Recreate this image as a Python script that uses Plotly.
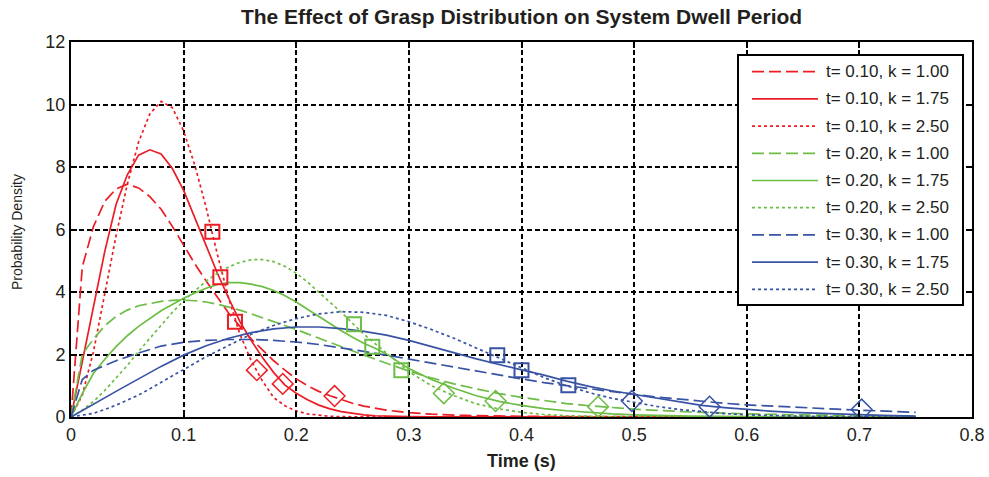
import plotly.graph_objects as go

# ---------------- data ----------------
# t = 0.10
t10_x = [0, 0.01, 0.02, 0.03, 0.04, 0.05, 0.06, 0.07, 0.08, 0.09, 0.10, 0.11, 0.12, 0.13, 0.14,
         0.15, 0.16, 0.17, 0.18, 0.19, 0.20, 0.21, 0.22, 0.23, 0.24, 0.25, 0.26, 0.27, 0.28, 0.29,
         0.30, 0.32, 0.35, 0.40, 0.45, 0.50, 0.60, 0.75]
t10_k100 = [0, 4.8, 6.1, 6.9, 7.3, 7.45, 7.33, 7.05, 6.65, 6.1, 5.5, 4.9, 4.35, 3.82, 3.32,
            2.9, 2.5, 2.15, 1.8, 1.5, 1.22, 1.0, 0.82, 0.68, 0.55, 0.44, 0.35, 0.28, 0.22, 0.18,
            0.14, 0.09, 0.05, 0.02, 0.01, 0.005, 0, 0]
t10_k175 = [0, 1.8, 3.5, 5.3, 6.8, 7.75, 8.38, 8.55, 8.42, 7.95, 7.25, 6.35, 5.45, 4.6, 3.8,
            3.05, 2.45, 1.9, 1.42, 1.02, 0.76, 0.55, 0.38, 0.26, 0.17, 0.11, 0.07, 0.04, 0.025, 0.015,
            0.01, 0.005, 0, 0, 0, 0, 0, 0]
t10_k250 = [0, 0.7, 2.1, 3.95, 5.8, 7.45, 8.8, 9.7, 10.1, 9.9, 9.15, 8.05, 6.7, 5.2, 3.8,
            2.65, 1.8, 1.15, 0.62, 0.36, 0.19, 0.1, 0.05, 0.02, 0.01, 0.005, 0, 0, 0, 0,
            0, 0, 0, 0, 0, 0, 0, 0]

# t = 0.20
t20_x = [0, 0.01, 0.02, 0.03, 0.04, 0.05, 0.06, 0.07, 0.08, 0.09, 0.10, 0.11, 0.12, 0.13, 0.14,
         0.15, 0.16, 0.17, 0.18, 0.19, 0.20, 0.21, 0.22, 0.23, 0.24, 0.25, 0.26, 0.27, 0.28, 0.29,
         0.30, 0.32, 0.34, 0.36, 0.38, 0.40, 0.42, 0.44, 0.46, 0.48, 0.50, 0.55, 0.60, 0.65,
         0.70, 0.75]
t20_k100 = [0, 2.0, 2.5, 2.92, 3.22, 3.42, 3.56, 3.64, 3.7, 3.73, 3.74, 3.72, 3.68, 3.61, 3.52,
            3.42, 3.3, 3.18, 3.06, 2.93, 2.8, 2.66, 2.52, 2.38, 2.25, 2.11, 1.98, 1.85, 1.72, 1.59,
            1.47, 1.25, 1.06, 0.9, 0.75, 0.63, 0.52, 0.43, 0.36, 0.3, 0.25, 0.16, 0.1, 0.065,
            0.04, 0.03]
t20_k175 = [0, 0.75, 1.4, 1.85, 2.25, 2.6, 2.9, 3.15, 3.4, 3.6, 3.8, 3.97, 4.12, 4.24, 4.3,
            4.3, 4.25, 4.17, 4.05, 3.88, 3.68, 3.45, 3.22, 2.98, 2.76, 2.55, 2.36, 2.2, 2.02, 1.78,
            1.55, 1.2, 0.92, 0.68, 0.5, 0.37, 0.27, 0.2, 0.14, 0.1, 0.07, 0.03, 0.015, 0.005,
            0, 0]
t20_k250 = [0, 0.22, 0.5, 0.85, 1.25, 1.65, 2.1, 2.52, 2.95, 3.35, 3.72, 4.05, 4.35, 4.6, 4.8,
            4.95, 5.03, 5.04, 4.97, 4.82, 4.6, 4.32, 4.0, 3.68, 3.35, 3.0, 2.65, 2.35, 2.05, 1.75,
            1.45, 1.0, 0.68, 0.42, 0.26, 0.15, 0.08, 0.04, 0.02, 0.01, 0.005, 0, 0, 0,
            0, 0]

# t = 0.30
t30_x = [0, 0.01, 0.02, 0.03, 0.04, 0.06, 0.08, 0.10, 0.12, 0.14, 0.16, 0.18, 0.20, 0.22, 0.24,
         0.26, 0.28, 0.30, 0.32, 0.34, 0.36, 0.38, 0.40, 0.42, 0.44, 0.46, 0.48, 0.50, 0.52, 0.54,
         0.56, 0.58, 0.60, 0.62, 0.64, 0.66, 0.68, 0.70, 0.72, 0.75]
t30_k100 = [0, 1.2, 1.5, 1.66, 1.8, 2.05, 2.27, 2.39, 2.45, 2.48, 2.48, 2.45, 2.4, 2.32, 2.22,
            2.1, 1.98, 1.85, 1.72, 1.59, 1.46, 1.34, 1.22, 1.1, 1.0, 0.9, 0.8, 0.72, 0.64, 0.57,
            0.5, 0.44, 0.39, 0.35, 0.31, 0.28, 0.25, 0.22, 0.19, 0.15]
t30_k175 = [0, 0.21, 0.42, 0.62, 0.82, 1.22, 1.62, 1.98, 2.28, 2.52, 2.7, 2.82, 2.88, 2.88, 2.83,
            2.74, 2.62, 2.45, 2.25, 2.05, 1.86, 1.68, 1.52, 1.34, 1.15, 0.98, 0.84, 0.72, 0.59, 0.47,
            0.37, 0.3, 0.24, 0.19, 0.15, 0.12, 0.09, 0.07, 0.05, 0.03]
t30_k250 = [0, 0.05, 0.12, 0.24, 0.38, 0.7, 1.1, 1.52, 1.93, 2.3, 2.65, 2.93, 3.15, 3.3, 3.37,
            3.35, 3.25, 3.05, 2.8, 2.52, 2.2, 1.88, 1.56, 1.26, 1.0, 0.78, 0.6, 0.46, 0.34, 0.24,
            0.17, 0.11, 0.07, 0.045, 0.03, 0.02, 0.01, 0.005, 0, 0]

# square and diamond markers on each curve (k = 1.00, 1.75, 2.50 order per t)
sq_red_x, sq_red_y = [0.1456, 0.1326, 0.1255], [3.05, 4.47, 5.93]
sq_green_x, sq_green_y = [0.2933, 0.2675, 0.2513], [1.50, 2.25, 2.97]
sq_blue_x, sq_blue_y = [0.4416, 0.400, 0.3785], [1.02, 1.50, 1.98]
dm_red_x, dm_red_y = [0.234, 0.188, 0.165], [0.67, 1.06, 1.50]
dm_green_x, dm_green_y = [0.468, 0.377, 0.331], [0.33, 0.51, 0.76]
dm_blue_x, dm_blue_y = [0.702, 0.567, 0.498], [0.24, 0.33, 0.51]

legend_labels = ["t= 0.10, k = 1.00", "t= 0.10, k = 1.75", "t= 0.10, k = 2.50",
                 "t= 0.20, k = 1.00", "t= 0.20, k = 1.75", "t= 0.20, k = 2.50",
                 "t= 0.30, k = 1.00", "t= 0.30, k = 1.75", "t= 0.30, k = 2.50"]

x_ticks = [0, 0.1, 0.2, 0.3, 0.4, 0.5, 0.6, 0.7, 0.8]
x_tick_text = ["0", "0.1", "0.2", "0.3", "0.4", "0.5", "0.6", "0.7", "0.8"]
y_ticks = [0, 2, 4, 6, 8, 10, 12]
y_tick_text = ["0", "2", "4", "6", "8", "10", "12"]

# ---------------- styling ----------------
RED = "#EC1C24"
GREEN = "#6CBD45"
BLUE = "#3953A4"
DASH = "12px,5px"
DOT = "3px,3px"
LW = 1.7
FONT = "Liberation Sans, Arial, sans-serif"
INK = "#231F20"

series = [
    (t10_x, t10_k100, RED, DASH), (t10_x, t10_k175, RED, "solid"), (t10_x, t10_k250, RED, DOT),
    (t20_x, t20_k100, GREEN, DASH), (t20_x, t20_k175, GREEN, "solid"), (t20_x, t20_k250, GREEN, DOT),
    (t30_x, t30_k100, BLUE, DASH), (t30_x, t30_k175, BLUE, "solid"), (t30_x, t30_k250, BLUE, DOT),
]

fig = go.Figure()
for (xs, ys, col, dash), name in zip(series, legend_labels):
    fig.add_trace(go.Scatter(x=xs, y=ys, mode="lines", name=name, showlegend=False,
                             line=dict(color=col, width=LW, dash=dash)))

for xs, ys, col in [(sq_red_x, sq_red_y, RED), (sq_green_x, sq_green_y, GREEN),
                    (sq_blue_x, sq_blue_y, BLUE)]:
    fig.add_trace(go.Scatter(x=xs, y=ys, mode="markers", showlegend=False,
                             marker=dict(symbol="square-open", size=14, color=col,
                                         line=dict(width=2, color=col))))
for xs, ys, col in [(dm_red_x, dm_red_y, RED), (dm_green_x, dm_green_y, GREEN),
                    (dm_blue_x, dm_blue_y, BLUE)]:
    fig.add_trace(go.Scatter(x=xs, y=ys, mode="markers", showlegend=False,
                             marker=dict(symbol="diamond-open", size=16, color=col,
                                         line=dict(width=1.5, color=col))))

# ---------------- layout helpers (pixel -> paper) ----------------
W, H = 989, 477
L, R, T, B = 71, 17, 42, 60
pw, ph = W - L - R, H - T - B


def px(xp):
    return (xp - L) / pw


def py(yp):
    return (H - B - yp) / ph


# legend box drawn in paper space
shapes = [dict(type="rect", xref="paper", yref="paper",
               x0=px(738), x1=px(963), y0=py(305), y1=py(55),
               line=dict(color="black", width=2), fillcolor="white", layer="above")]
annotations = []
row0, step = 71.7, 27.2
for i, ((_, _, col, dash), label) in enumerate(zip(series, legend_labels)):
    yy = row0 + i * step
    shapes.append(dict(type="line", xref="paper", yref="paper",
                       x0=px(752), x1=px(818), y0=py(yy), y1=py(yy),
                       line=dict(color=col, width=LW, dash=dash), layer="above"))
    annotations.append(dict(xref="paper", yref="paper", x=px(824), y=py(yy),
                            xanchor="left", yanchor="middle", text=label, showarrow=False,
                            font=dict(family=FONT, size=17, color=INK)))

# axis titles
annotations.append(dict(xref="paper", yref="paper", x=px(521), y=py(461),
                        xanchor="center", yanchor="middle", showarrow=False,
                        text="<b>Time (s)</b>", font=dict(family=FONT, size=18, color=INK)))
annotations.append(dict(xref="paper", yref="paper", x=px(17), y=py(232),
                        xanchor="center", yanchor="middle", showarrow=False, textangle=-90,
                        text="Probability Density", font=dict(family=FONT, size=14, color=INK)))

axis_common = dict(showline=True, linecolor="black", linewidth=2, mirror="ticks",
                   ticks="inside", ticklen=6, tickwidth=1.5, tickcolor="black",
                   showgrid=True, gridcolor="black", gridwidth=1.6, griddash="5px,3px",
                   zeroline=False, automargin=False,
                   tickfont=dict(family=FONT, size=18, color=INK))

fig.update_layout(
    width=W, height=H,
    margin=dict(l=L, r=R, t=T, b=B, autoexpand=False),
    paper_bgcolor="white", plot_bgcolor="white",
    title=dict(text="<b>The Effect of Grasp Distribution on System Dwell Period</b>",
               x=(L + pw / 2) / W, xanchor="center", y=1 - 17 / H, yanchor="middle",
               font=dict(family=FONT, size=21, color=INK)),
    xaxis=dict(range=[0, 0.8], tickvals=x_ticks, ticktext=x_tick_text, **axis_common),
    yaxis=dict(range=[0, 12], tickvals=y_ticks, ticktext=y_tick_text, **axis_common),
    shapes=shapes,
    annotations=annotations,
)

fig.write_html("out.html")
